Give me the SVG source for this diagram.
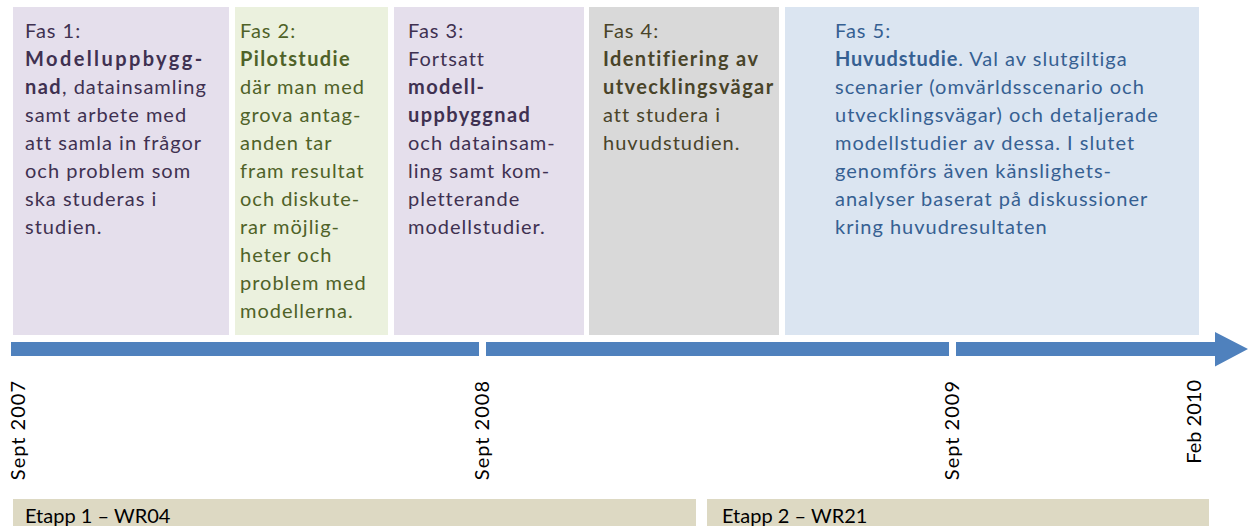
<svg xmlns="http://www.w3.org/2000/svg" width="1254" height="526" viewBox="0 0 1254 526">
<style>
text{font-family:Lato,"Liberation Sans",sans-serif;font-size:20px;letter-spacing:1px}
.b{font-weight:bold;letter-spacing:1.4px}
.p1{fill:#E5DFEC}.p2{fill:#EBF1DE}.p4{fill:#D9D9D9}.p5{fill:#DBE5F1}
.t1{fill:#3F3151}.t2{fill:#4F6228}.t4{fill:#494429}.t5{fill:#366092}
.bar{fill:#4F81BD}
.et{fill:#DDD9C3}
.dt{fill:#000}
.lb{letter-spacing:0px}
</style>
<rect width="1254" height="526" fill="#fff"/>
<g id="fas1">
<rect class="p1" x="13" y="7" width="216" height="328"/>
<text class="t1" x="25" y="38">Fas 1:</text>
<text class="t1 b" x="25" y="66" style="letter-spacing:2.4px">Modelluppbygg-</text>
<text class="t1" x="25" y="94"><tspan class="b">nad</tspan>, datainsamling</text>
<text class="t1" x="25" y="122">samt arbete med</text>
<text class="t1" x="25" y="150">att samla in frågor</text>
<text class="t1" x="25" y="178">och problem som</text>
<text class="t1" x="25" y="206">ska studeras i</text>
<text class="t1" x="25" y="234">studien.</text>
</g>
<g id="fas2">
<rect class="p2" x="235" y="7" width="153" height="328"/>
<text class="t2" x="240" y="38">Fas 2:</text>
<text class="t2 b" x="240" y="66">Pilotstudie</text>
<text class="t2" x="240" y="94">där man med</text>
<text class="t2" x="240" y="122">grova antag-</text>
<text class="t2" x="240" y="150">anden tar</text>
<text class="t2" x="240" y="178">fram resultat</text>
<text class="t2" x="240" y="206">och diskute-</text>
<text class="t2" x="240" y="234">rar möjlig-</text>
<text class="t2" x="240" y="262">heter och</text>
<text class="t2" x="240" y="290">problem med</text>
<text class="t2" x="240" y="318">modellerna.</text>
</g>
<g id="fas3">
<rect class="p1" x="394" y="7" width="190" height="328"/>
<text class="t1" x="408" y="38">Fas 3:</text>
<text class="t1" x="408" y="66">Fortsatt</text>
<text class="t1 b" x="408" y="94">modell-</text>
<text class="t1 b" x="408" y="122">uppbyggnad</text>
<text class="t1" x="408" y="150">och datainsam-</text>
<text class="t1" x="408" y="178">ling samt kom-</text>
<text class="t1" x="408" y="206">pletterande</text>
<text class="t1" x="408" y="234">modellstudier.</text>
</g>
<g id="fas4">
<rect class="p4" x="589" y="7" width="190" height="328"/>
<text class="t4" x="603" y="38">Fas 4:</text>
<text class="t4 b" x="603" y="66">Identifiering av</text>
<text class="t4 b" x="603" y="94">utvecklingsvägar</text>
<text class="t4" x="603" y="122">att studera i</text>
<text class="t4" x="603" y="150">huvudstudien.</text>
</g>
<g id="fas5">
<rect class="p5" x="785" y="7" width="414" height="328"/>
<text class="t5" x="835" y="38">Fas 5:</text>
<text class="t5" x="835" y="66"><tspan class="b" style="letter-spacing:0.8px">Huvudstudie</tspan>. Val av slutgiltiga</text>
<text class="t5" x="835" y="94">scenarier (omvärldsscenario och</text>
<text class="t5" x="835" y="122">utvecklingsvägar) och detaljerade</text>
<text class="t5" x="835" y="150">modellstudier av dessa. I slutet</text>
<text class="t5" x="835" y="178">genomförs även känslighets-</text>
<text class="t5" x="835" y="206">analyser baserat på diskussioner</text>
<text class="t5" x="835" y="234">kring huvudresultaten</text>
</g>
<g id="timeline">
<rect class="bar" x="11" y="342" width="468" height="14"/>
<rect class="bar" x="486" y="342" width="463" height="14"/>
<path class="bar" d="M956,342 H1215 V332 L1248,349 L1215,366.5 V356 H956 Z"/>
</g>
<g id="dates">
<text class="dt" transform="translate(25,380) rotate(-90)" text-anchor="end">Sept 2007</text>
<text class="dt" transform="translate(489,380) rotate(-90)" text-anchor="end">Sept 2008</text>
<text class="dt" transform="translate(959,380) rotate(-90)" text-anchor="end">Sept 2009</text>
<text class="dt" transform="translate(1201,380) rotate(-90)" text-anchor="end" style="letter-spacing:0px">Feb 2010</text>
</g>
<g id="etapp1">
<rect class="et" x="13" y="499" width="683" height="27"/>
<text class="dt lb" x="25" y="523">Etapp 1 – WR04</text>
</g>
<g id="etapp2">
<rect class="et" x="707" y="499" width="502" height="27"/>
<text class="dt lb" x="722" y="523">Etapp 2 – WR21</text>
</g>
</svg>
